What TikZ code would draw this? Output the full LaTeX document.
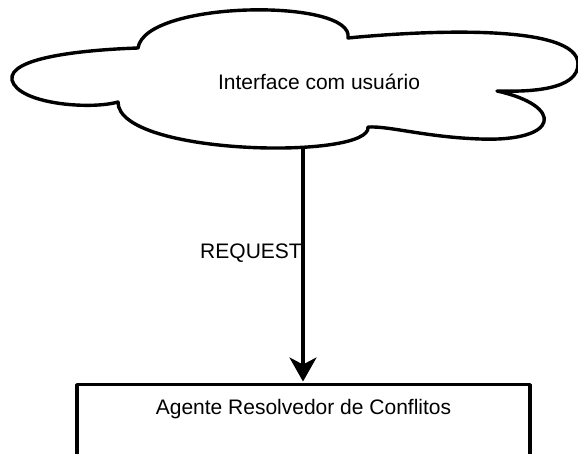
\documentclass[tikz,border=0pt]{standalone}
\usepackage{fontspec}
\setmainfont{Liberation Sans}
\usetikzlibrary{arrows.meta}

\tikzset{
  outline/.style={draw=black, line width=3.4pt, line join=round},
  caption/.style={font=\fontsize{21}{25}\selectfont, inner sep=0pt, text=black},
  flow/.style={draw=black, line width=3.4pt, -{Stealth[length=24pt, width=27pt, inset=7pt]}},
}

\begin{document}
\begin{tikzpicture}[x=1pt, y=-1pt]
  \useasboundingbox (0,0) rectangle (578,454);

  % cloud: five lobes joined at sharp cusps
  \path[outline]
    (138,48) .. controls (145,0) and (355,-2) .. (348,38)
    .. controls (430,30) and (578,24) .. (578,64)
    .. controls (578,90) and (530,92) .. (497,91)
    .. controls (565,106) and (560,142) .. (480,139)
    .. controls (425,137) and (390,126) .. (368,127)
    .. controls (372,160) and (118,156) .. (118,102)
    .. controls (90,110) and (18,104) .. (12,80)
    .. controls (8,58) and (80,50) .. cycle;

  \node[caption] (ui) at (319,82) {Interface com usuário};
  \coordinate (uibottom) at (303,147);

  % receiving box, continuing below the lower edge
  \node[outline, minimum width=453pt, minimum height=90pt, anchor=north, inner sep=0pt]
    (agent) at (303.5,383) {};
  \node[caption] (agentlabel) at (303.5,409) {Agente Resolvedor de Conflitos};

  \coordinate (agenttop) at (303,381.5);
  \draw[flow] (uibottom) -- (agenttop);
  \node[caption] (request) at (251,253) {REQUEST};
\end{tikzpicture}
\end{document}
